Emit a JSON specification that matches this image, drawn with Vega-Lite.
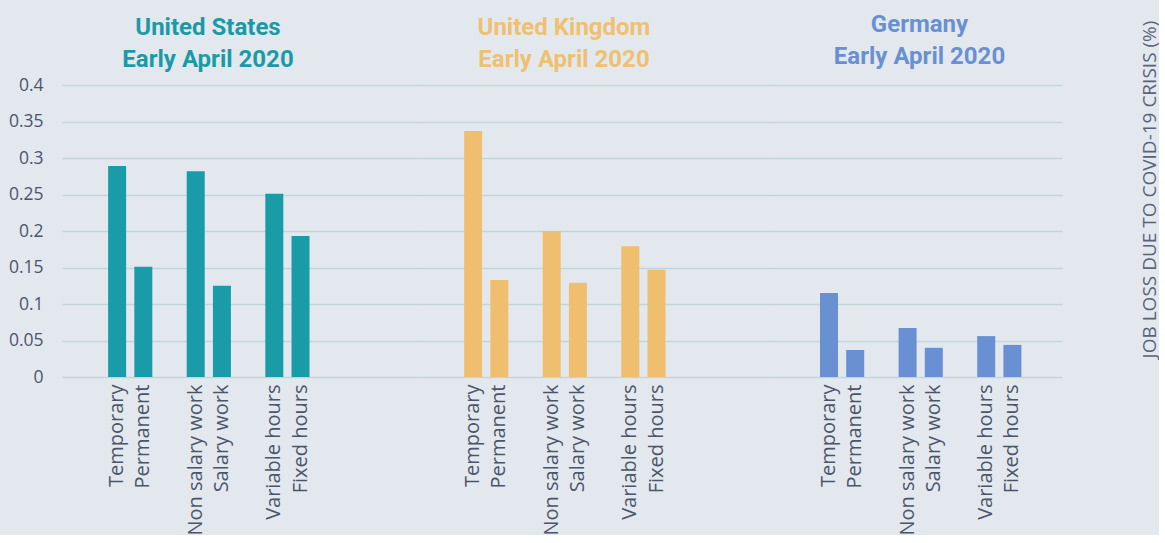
{
  "$schema": "https://vega.github.io/schema/vega-lite/v6.json",
  "background": "#e3e8ef",
  "padding": {"left": 5, "top": 13, "right": 0, "bottom": 0},
  "spacing": 0,
  "data": {
    "values": [
      {"country": "United States", "category": "Temporary", "value": 0.289},
      {"country": "United States", "category": "Permanent", "value": 0.151},
      {"country": "United States", "category": "Non salary work", "value": 0.282},
      {"country": "United States", "category": "Salary work", "value": 0.125},
      {"country": "United States", "category": "Variable hours", "value": 0.251},
      {"country": "United States", "category": "Fixed hours", "value": 0.193},
      {"country": "United Kingdom", "category": "Temporary", "value": 0.337},
      {"country": "United Kingdom", "category": "Permanent", "value": 0.133},
      {"country": "United Kingdom", "category": "Non salary work", "value": 0.200},
      {"country": "United Kingdom", "category": "Salary work", "value": 0.129},
      {"country": "United Kingdom", "category": "Variable hours", "value": 0.179},
      {"country": "United Kingdom", "category": "Fixed hours", "value": 0.147},
      {"country": "Germany", "category": "Temporary", "value": 0.115},
      {"country": "Germany", "category": "Permanent", "value": 0.037},
      {"country": "Germany", "category": "Non salary work", "value": 0.067},
      {"country": "Germany", "category": "Salary work", "value": 0.040},
      {"country": "Germany", "category": "Variable hours", "value": 0.056},
      {"country": "Germany", "category": "Fixed hours", "value": 0.044}
    ]
  },
  "config": {
    "view": {"stroke": null},
    "font": "Roboto",
    "title": {"font": "Roboto", "fontSize": 24, "fontWeight": "bold", "lineHeight": 32, "anchor": "middle", "frame": "group", "offset": 16},
    "axisX": {"title": null, "labelAngle": -90, "labelFontSize": 20, "labelColor": "#4b5568", "labelFont": "Open Sans", "labelPadding": 7, "domain": false, "ticks": false, "labelLimit": 300, "grid": false},
    "axisY": {"domain": false, "ticks": false, "grid": true, "gridColor": "#bfd5d8", "gridWidth": 1.5, "labelFontSize": 17.5, "labelColor": "#4b5568", "labelFont": "Open Sans", "labelPadding": 19, "values": [0, 0.05, 0.1, 0.15, 0.2, 0.25, 0.3, 0.35, 0.4], "format": "~g"}
  },
  "resolve": {"scale": {"x": "independent", "y": "independent"}, "axis": {"x": "independent", "y": "independent"}},
  "hconcat": [
    {
      "width": 356, "height": 292,
      "title": {"text": ["United States", "Early April 2020"], "color": "#1b9aa6", "dx": -32, "offset": 4.5},
      "transform": [{"filter": "datum.country === 'United States'"}],
      "mark": {"type": "bar", "color": "#199ba8"},
      "encoding": {
        "x": {"field": "category", "type": "nominal", "sort": null,
          "scale": {"domain": [" ", "Temporary", "Permanent", "  ", "Non salary work", "Salary work", "   ", "Variable hours", "Fixed hours", "    ", "     ", "      "], "paddingInner": 0.313, "paddingOuter": 0.95, "align": 0.4}},
        "y": {"field": "value", "type": "quantitative", "scale": {"domain": [0, 0.4]},
          "axis": {"title": null, "minExtent": 57, "maxExtent": 57}}
      }
    },
    {
      "width": 356, "height": 292,
      "title": {"text": ["United Kingdom", "Early April 2020"], "color": "#efc070", "dx": -32, "offset": 13.5},
      "transform": [{"filter": "datum.country === 'United Kingdom'"}],
      "mark": {"type": "bar", "color": "#efbf6f"},
      "encoding": {
        "x": {"field": "category", "type": "nominal", "sort": null,
          "scale": {"domain": [" ", "Temporary", "Permanent", "  ", "Non salary work", "Salary work", "   ", "Variable hours", "Fixed hours", "    ", "     ", "      "], "paddingInner": 0.313, "paddingOuter": 0.95, "align": 0.4}},
        "y": {"field": "value", "type": "quantitative", "scale": {"domain": [0, 0.4]},
          "axis": {"title": null, "labels": false, "minExtent": 0, "maxExtent": 0}}
      }
    },
    {
      "width": 288, "height": 292,
      "title": {"text": ["Germany", "Early April 2020"], "color": "#6890d2", "dx": 1.5, "offset": -49},
      "transform": [{"filter": "datum.country === 'Germany'"}],
      "mark": {"type": "bar", "color": "#6890d2"},
      "encoding": {
        "x": {"field": "category", "type": "nominal", "sort": null,
          "scale": {"domain": [" ", "Temporary", "Permanent", "  ", "Non salary work", "Salary work", "   ", "Variable hours", "Fixed hours", "    "], "paddingInner": 0.313, "paddingOuter": 0.652, "align": 0.579}},
        "y": {"field": "value", "type": "quantitative", "scale": {"domain": [0, 0.4]},
          "axis": {"orient": "right", "labels": false, "title": "JOB LOSS DUE TO COVID-19 CRISIS (%)", "titleFont": "Open Sans", "titleFontWeight": "normal", "titleFontSize": 19, "titleColor": "#5a6478", "titleAngle": 270, "titleX": 87, "titleY": 104, "titleAlign": "center", "titleBaseline": "middle", "titleAnchor": null}}
      }
    }
  ]
}
